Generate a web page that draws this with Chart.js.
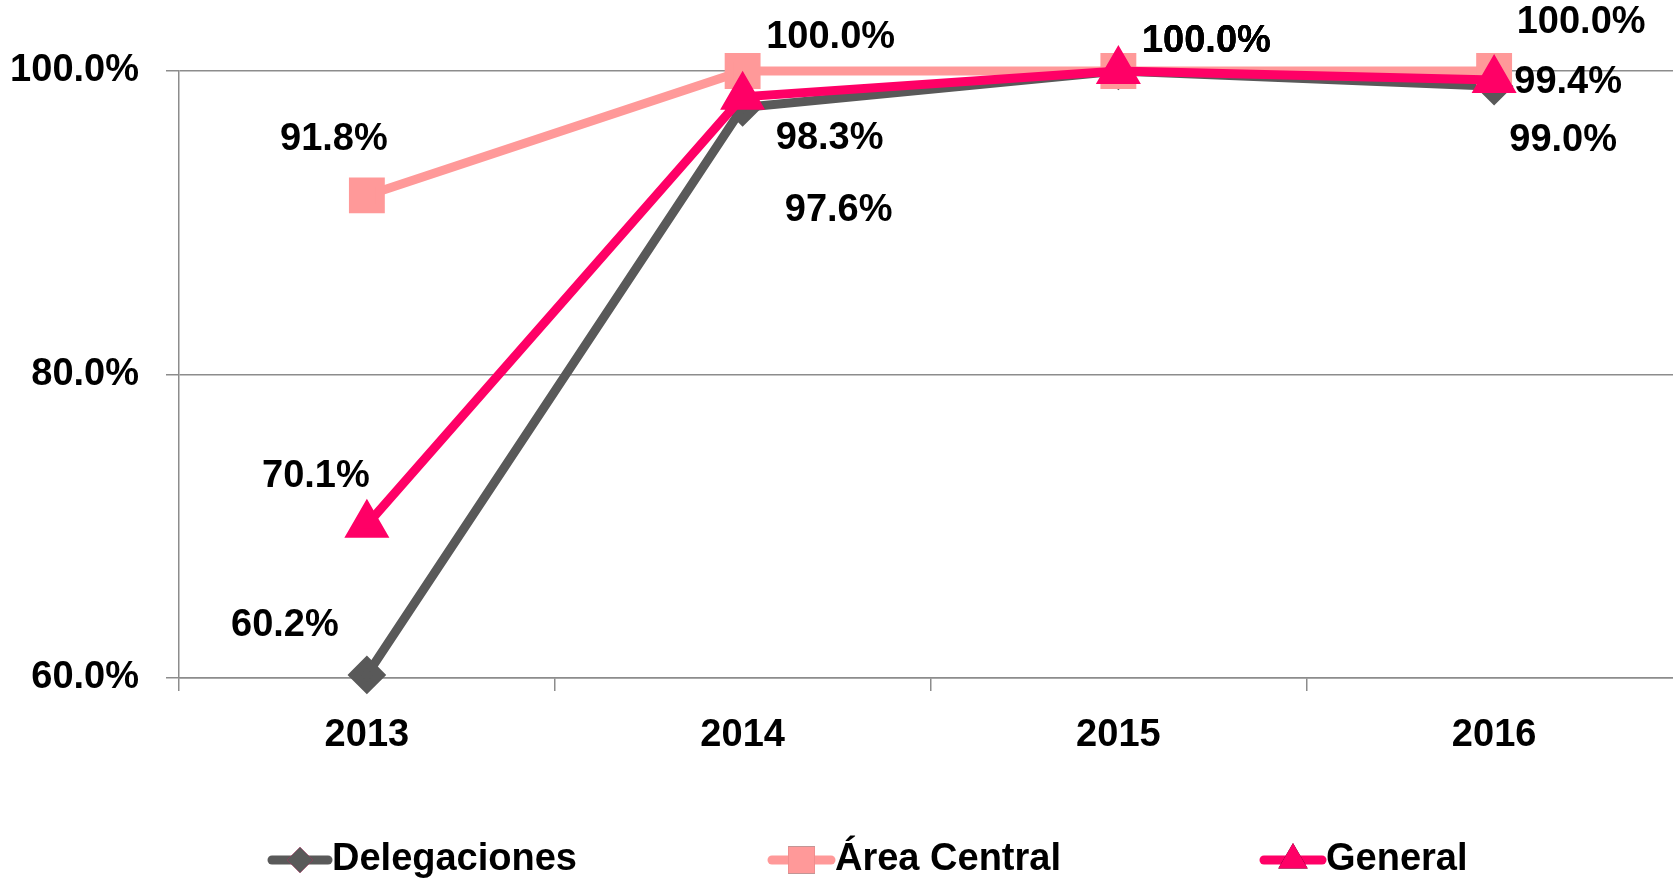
<!DOCTYPE html>
<html>
<head>
<meta charset="utf-8">
<script src="https://cdn.jsdelivr.net/npm/chart.js@4.4.1/dist/chart.umd.min.js"></script>
<style>
html,body{margin:0;padding:0;background:#fff;overflow:hidden;width:1673px;height:880px;}
#wrap{width:1710px;height:880px;position:relative;}
#c{display:block;}
</style>
</head>
<body>
<div id="wrap"><canvas id="c" width="1710" height="880" style="width:1710px;height:880px"></canvas></div>
<script>
const categories = ['2013', '2014', '2015', '2016'];
const delegaciones = [60.2, 97.6, 100.0, 99.0];
const areaCentral = [91.8, 100.0, 100.0, 100.0];
const general = [70.1, 98.3, 100.0, 99.4];
const yTicks = [60, 80, 100];
const seriesNames = ['Delegaciones', 'Área Central', 'General'];

const FONT = "'Liberation Sans', Arial, sans-serif";
const FS = 38;

// label offsets (pixels from the point) per dataset per category
const labelOffsets = [
  [[-82,-49],[96,103],[88,-29],[69,54]],
  [[-33,-56],[88,-33],[88,-29],[87,-48]],
  [[-51,-48],[87,42],[88,-29],[74,2]]
];

const labelPlugin = {
  id: 'valueLabels',
  afterDatasetsDraw(chart) {
    const ctx = chart.ctx;
    ctx.save();
    ctx.font = `bold ${FS}px ${FONT}`;
    ctx.fillStyle = '#000';
    ctx.textAlign = 'center';
    ctx.textBaseline = 'middle';
    chart.data.datasets.forEach((ds, di) => {
      const meta = chart.getDatasetMeta(di);
      meta.data.forEach((pt, i) => {
        const off = labelOffsets[di][i];
        ctx.fillText(ds.data[i].toFixed(1) + '%', pt.x + off[0], pt.y + off[1]);
      });
    });
    ctx.restore();
  }
};

const legendPlugin = {
  id: 'customLegend',
  afterDraw(chart) {
    const ctx = chart.ctx;
    const y = 860;
    const items = [
      {x: 272, tx: 332},
      {x: 772, tx: 835},
      {x: 1264, tx: 1326}
    ];
    ctx.save();
    chart.data.datasets.forEach((ds, di) => {
      const it = items[di];
      ctx.strokeStyle = ds.borderColor;
      ctx.lineWidth = 9;
      ctx.lineCap = 'round';
      ctx.beginPath();
      ctx.moveTo(it.x, y);
      ctx.lineTo(it.tx - 4, y);
      ctx.stroke();
      const cx = (it.x + it.tx - 4) / 2;
      Chart.helpers.drawPoint(ctx, {pointStyle: ds.pointStyle, radius: ds.pointRadius, borderWidth: 0}, cx, y);
      ctx.fillStyle = ds.pointBackgroundColor;
      ctx.fill();
      ctx.fillStyle = '#000';
      ctx.font = `bold ${FS}px ${FONT}`;
      ctx.textAlign = 'left';
      ctx.textBaseline = 'middle';
      ctx.fillText(ds.label, it.tx, y);
    });
    ctx.restore();
  }
};

new Chart(document.getElementById('c'), {
  type: 'line',
  data: {
    labels: categories,
    datasets: [
      {label: seriesNames[0], data: delegaciones, borderColor: '#595959', backgroundColor: '#595959',
       pointBackgroundColor: '#595959', pointBorderColor: '#595959', pointStyle: 'rectRot', pointRadius: 13,
       borderWidth: 9, order: 3, clip: false},
      {label: seriesNames[1], data: areaCentral, borderColor: '#FF9999', backgroundColor: '#FF9999',
       pointBackgroundColor: '#FF9999', pointBorderColor: '#FF9999', pointStyle: 'rect', pointRadius: 19,
       borderWidth: 9, order: 2, clip: false},
      {label: seriesNames[2], data: general, borderColor: '#FF0066', backgroundColor: '#FF0066',
       pointBackgroundColor: '#FF0066', pointBorderColor: '#FF0066', pointStyle: 'triangle', pointRadius: 17,
       borderWidth: 9, order: 1, clip: false}
    ]
  },
  options: {
    responsive: false,
    animation: false,
    events: [],
    layout: {padding: {top: 71, right: 0, left: 0, bottom: 110}},
    plugins: {legend: {display: false}, tooltip: {enabled: false}},
    elements: {line: {tension: 0}, point: {borderWidth: 0}},
    scales: {
      x: {
        offset: true,
        grid: {offset: true, drawOnChartArea: false, drawTicks: true, tickLength: 13, color: '#8c8c8c', lineWidth: 1.5},
        border: {display: true, color: '#8c8c8c', width: 1.5},
        ticks: {font: {family: FONT, size: FS, weight: 'bold'}, color: '#000', padding: 22, maxRotation: 0},
        afterFit(s) { s.height = 92; s.paddingLeft = 0; s.paddingRight = 0; }
      },
      y: {
        min: 60, max: 100,
        afterBuildTicks(s) { s.ticks = yTicks.map(v => ({value: v})); },
        grid: {drawTicks: true, tickLength: 13, color: '#8c8c8c', lineWidth: 1.5},
        border: {display: true, color: '#8c8c8c', width: 1.5},
        ticks: {font: {family: FONT, size: FS, weight: 'bold'}, color: '#000', padding: 27,
                callback: v => v.toFixed(1) + '%'},
        afterFit(s) { s.width = 179; }
      }
    }
  },
  plugins: [labelPlugin, legendPlugin]
});
</script>
</body>
</html>
